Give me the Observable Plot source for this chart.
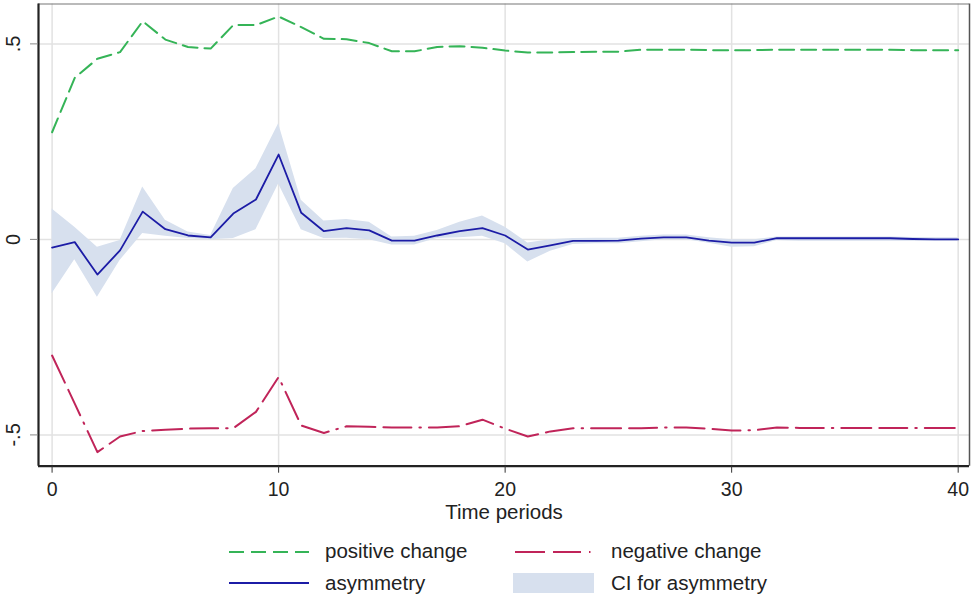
<!DOCTYPE html>
<html>
<head>
<meta charset="utf-8">
<script src="https://cdn.jsdelivr.net/npm/d3@7"></script>
<script src="https://cdn.jsdelivr.net/npm/@observablehq/plot@0.6"></script>
<style>
  html, body { margin: 0; padding: 0; background: #fff; }
  #wrap { position: relative; width: 974px; height: 599px; font-family: "Liberation Sans", Arial, sans-serif; color: #222; }
  .lg { position: absolute; font-size: 20.5px; line-height: 20.5px; white-space: nowrap; }
  .sw { position: absolute; }
</style>
</head>
<body>
<div id="wrap"></div>
<script>
const periods = [0,1,2,3,4,5,6,7,8,9,10,11,12,13,14,15,16,17,18,19,20,21,22,23,24,25,26,27,28,29,30,31,32,33,34,35,36,37,38,39,40];
const positiveChange = [0.274,0.413,0.462,0.479,0.558,0.511,0.492,0.488,0.548,0.548,0.570,0.543,0.513,0.512,0.502,0.481,0.481,0.492,0.494,0.490,0.483,0.478,0.478,0.479,0.480,0.480,0.485,0.485,0.485,0.484,0.484,0.484,0.485,0.485,0.485,0.485,0.485,0.485,0.484,0.484,0.484];
const negativeChange = [-0.297,-0.420,-0.544,-0.504,-0.490,-0.487,-0.484,-0.483,-0.483,-0.441,-0.352,-0.476,-0.495,-0.478,-0.479,-0.481,-0.481,-0.481,-0.478,-0.461,-0.484,-0.504,-0.491,-0.483,-0.483,-0.483,-0.483,-0.481,-0.481,-0.484,-0.489,-0.488,-0.481,-0.482,-0.482,-0.482,-0.482,-0.482,-0.482,-0.482,-0.482];
const asymmetry = [-0.021,-0.007,-0.090,-0.028,0.071,0.026,0.010,0.005,0.066,0.102,0.217,0.068,0.021,0.029,0.023,-0.003,-0.003,0.010,0.021,0.029,0.010,-0.026,-0.015,-0.004,-0.004,-0.003,0.002,0.005,0.005,-0.003,-0.008,-0.008,0.003,0.003,0.003,0.003,0.003,0.003,0.001,0.000,0.000];
const ciUpper = [0.078,0.031,-0.020,-0.003,0.134,0.049,0.019,0.010,0.130,0.181,0.296,0.100,0.047,0.051,0.044,0.006,0.008,0.023,0.044,0.060,0.031,-0.009,-0.001,0.002,0.003,0.003,0.008,0.011,0.011,0.004,-0.001,-0.001,0.006,0.006,0.006,0.006,0.006,0.006,0.005,0.004,0.004];
const ciLower = [-0.139,-0.052,-0.148,-0.054,0.015,0.008,0.002,-0.001,0.002,0.025,0.142,0.025,0.002,0.003,-0.001,-0.014,-0.014,0.002,0.004,0.008,-0.011,-0.058,-0.030,-0.013,-0.011,-0.011,-0.006,-0.001,-0.001,-0.010,-0.020,-0.019,-0.003,-0.005,-0.005,-0.005,-0.005,-0.005,-0.005,-0.005,-0.005];
const xTicks = [0,10,20,30,40];
const yTicks = [-0.5,0,0.5];
const yTickLabels = ["-.5","0",".5"];
const seriesLabels = ["positive change","negative change","asymmetry","CI for asymmetry"];

const colors = { pos: "#35b457", neg: "#c02459", asy: "#1c1ca6", ci: "#d7e0ee" };
const dashPos = "15,7";
const dashNeg = "30,8,28,8,1.5,8";

const rows = periods.map((t, i) => ({
  t, pos: positiveChange[i], neg: negativeChange[i], asy: asymmetry[i], hi: ciUpper[i], lo: ciLower[i]
}));

const xMin = -0.6, xMax = 40.5, yMin = -0.58, yMax = 0.602;

const chart = Plot.plot({
  width: 974,
  height: 530,
  marginLeft: 38,
  marginRight: 5,
  marginTop: 3.5,
  marginBottom: 64.3,
  x: { domain: [xMin, xMax] },
  y: { domain: [yMin, yMax] },
  style: { fontFamily: '"Liberation Sans", Arial, sans-serif', fontSize: "20px", color: "#222", background: "#fff" },
  marks: [
    Plot.ruleX(xTicks, { stroke: "#e2e2e2", strokeWidth: 1.5 }),
    Plot.ruleY(yTicks, { stroke: "#e2e2e2", strokeWidth: 1.5 }),
    Plot.areaY(rows, { x: "t", y1: "lo", y2: "hi", fill: colors.ci }),
    Plot.line(rows, { x: "t", y: "pos", stroke: colors.pos, strokeWidth: 2, strokeDasharray: dashPos }),
    Plot.line(rows, { x: "t", y: "neg", stroke: colors.neg, strokeWidth: 2, strokeDasharray: dashNeg }),
    Plot.line(rows, { x: "t", y: "asy", stroke: colors.asy, strokeWidth: 1.8 }),
    Plot.ruleY([yMax], { stroke: "#777", strokeWidth: 1.2 }),
    Plot.ruleX([xMax], { stroke: "#555", strokeWidth: 1.5 }),
    Plot.ruleX([xMin], { stroke: "#222", strokeWidth: 2.2 }),
    Plot.ruleY([yMin], { stroke: "#222", strokeWidth: 2.2 }),
    Plot.axisX(xTicks, { tickSize: 7, tickPadding: 9, fontSize: 19.5, stroke: "#333", label: null }),
    Plot.axisY(yTicks, { tickSize: 8, stroke: "#888", tickFormat: () => "", label: null }),
    Plot.text(yTicks, { y: d => d, frameAnchor: "left", dx: -25, rotate: -90, text: (d, i) => yTickLabels[i], textAnchor: "middle", lineAnchor: "middle", fontSize: 20, fill: "#222" }),
    Plot.text(["Time periods"], { frameAnchor: "bottom", dy: 46, lineAnchor: "middle", textAnchor: "middle", fontSize: 20.5, fill: "#222" })
  ]
});

const wrap = document.getElementById("wrap");
wrap.appendChild(chart);

function lineSwatch(left, top, color, dash, width) {
  const ns = "http://www.w3.org/2000/svg";
  const s = document.createElementNS(ns, "svg");
  s.setAttribute("width", 82); s.setAttribute("height", 6);
  s.setAttribute("class", "sw");
  s.style.left = left + "px"; s.style.top = (top - 3) + "px";
  const l = document.createElementNS(ns, "line");
  l.setAttribute("x1", 0); l.setAttribute("x2", 80); l.setAttribute("y1", 3); l.setAttribute("y2", 3);
  l.setAttribute("stroke", color); l.setAttribute("stroke-width", width);
  if (dash) l.setAttribute("stroke-dasharray", dash);
  s.appendChild(l);
  wrap.appendChild(s);
}
function label(left, top, text) {
  const d = document.createElement("div");
  d.className = "lg"; d.style.left = left + "px"; d.style.top = top + "px";
  d.textContent = text; wrap.appendChild(d);
}
lineSwatch(229, 551.7, colors.pos, dashPos, 2);
label(325, 541, seriesLabels[0]);
lineSwatch(515, 551.7, colors.neg, dashNeg, 2);
label(611, 541, seriesLabels[1]);
lineSwatch(229, 583.3, colors.asy, null, 1.8);
label(325, 573, seriesLabels[2]);
const box = document.createElement("div");
box.style.cssText = `position:absolute;left:513px;top:572.7px;width:81px;height:20px;background:${colors.ci}`;
wrap.appendChild(box);
label(611, 573, seriesLabels[3]);
</script>
</body>
</html>
